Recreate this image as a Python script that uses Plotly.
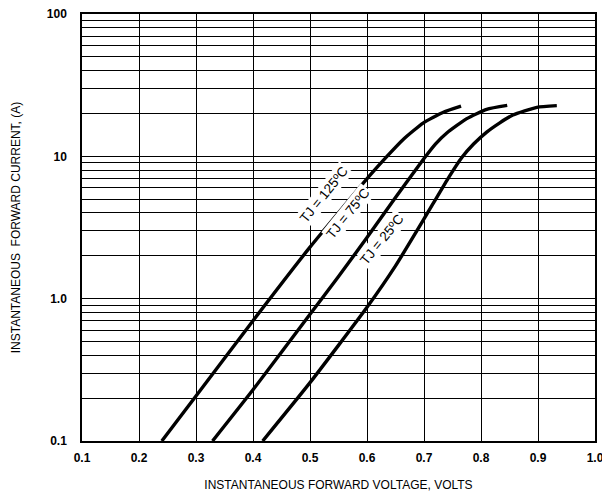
import math
import plotly.graph_objects as go

# Forward voltage (V) and forward current (A)
v_125 = [0.240, 0.300, 0.400, 0.500, 0.605, 0.635, 0.664, 0.699, 0.734, 0.765]
i_125 = [0.100, 0.207, 0.70, 2.30, 7.35, 10.0, 13.2, 17.2, 20.4, 22.5]

v_75 = [0.329, 0.400, 0.500, 0.550, 0.600, 0.650, 0.700, 0.720, 0.740, 0.775, 0.810, 0.846]
i_75 = [0.100, 0.229, 0.776, 1.43, 2.69, 5.13, 9.66, 12.2, 14.6, 18.4, 21.4, 22.8]

v_25 = [0.417, 0.500, 0.600, 0.650, 0.700, 0.740, 0.766, 0.787, 0.810, 0.833, 0.856, 0.898, 0.933]
i_25 = [0.100, 0.257, 0.87, 1.70, 3.63, 6.76, 9.77, 12.2, 14.8, 17.2, 19.5, 22.1, 22.7]

labels = ["TJ = 125ºC", "TJ = 75ºC", "TJ = 25ºC"]
label_v = [0.5246, 0.5667, 0.6263]
label_i = [5.40, 3.97, 2.60]

x_ticks = [0.1, 0.2, 0.3, 0.4, 0.5, 0.6, 0.7, 0.8, 0.9, 1.0]
x_ticktext = ["0.1", "0.2", "0.3", "0.4", "0.5", "0.6", "0.7", "0.8", "0.9", "1.0"]

y_grid = []
y_text = []
for dec, lab in [(0.1, "0.1"), (1.0, "1.0"), (10.0, "10")]:
    for k in range(1, 10):
        y_grid.append(dec * k)
        y_text.append(lab if k == 1 else "")
y_grid.append(100.0)
y_text.append("100")

FONT = "Liberation Sans, Arial"

fig = go.Figure()
for vv, ii in [(v_125, i_125), (v_75, i_75), (v_25, i_25)]:
    fig.add_trace(go.Scatter(x=vv, y=ii, mode="lines",
                             line=dict(color="black", width=3.4, shape="spline", smoothing=0.5),
                             showlegend=False, hoverinfo="skip"))

for t, xv, yv in zip(labels, label_v, label_i):
    fig.add_annotation(x=xv, y=math.log10(yv), xref="x", yref="y", text=t, showarrow=False,
                       textangle=-51, bgcolor="white", borderpad=1,
                       font=dict(family=FONT, size=13.5, color="black"))

fig.update_xaxes(range=[0.1, 1.0], tickvals=x_ticks, ticktext=x_ticktext, automargin=False,
                 ticklabeloverflow="allow",
                 showgrid=True, gridcolor="black", gridwidth=1.4,
                 showline=True, linecolor="black", linewidth=1.5, mirror=True,
                 zeroline=False, ticks="outside", ticklen=5, tickcolor="rgba(0,0,0,0)",
                 tickfont=dict(family=FONT, size=12, color="black", weight="bold"),
                 title=dict(text="INSTANTANEOUS FORWARD VOLTAGE, VOLTS", standoff=16,
                            font=dict(family=FONT, size=12, color="black")))
fig.update_yaxes(type="log", range=[-1, 2], tickvals=y_grid, ticktext=y_text, automargin=False,
                 ticklabeloverflow="allow",
                 showgrid=True, gridcolor="black", gridwidth=1.4,
                 showline=True, linecolor="black", linewidth=1.5, mirror=True,
                 zeroline=False, ticks="outside", ticklen=11, tickcolor="rgba(0,0,0,0)",
                 tickfont=dict(family=FONT, size=12, color="black", weight="bold"),
                 title=dict(text="INSTANTANEOUS  FORWARD CURRENT, (A)", standoff=24,
                            font=dict(family=FONT, size=12, color="black")))

# the page body adds an 8 px offset, so the figure is sized to sit inside the window
fig.update_layout(width=602, height=491, margin=dict(l=74, r=15, t=6, b=58),
                  plot_bgcolor="white", paper_bgcolor="white")

fig.write_html("out.html")
